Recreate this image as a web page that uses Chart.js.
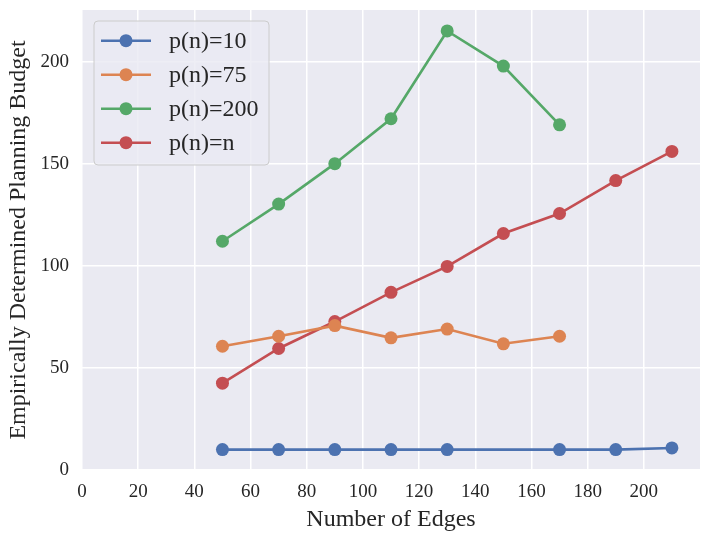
<!DOCTYPE html>
<html>
<head>
<meta charset="utf-8">
<script src="https://cdn.jsdelivr.net/npm/chart.js@4"></script>
<style>
html,body{margin:0;padding:0;background:#fff;}
#wrap{width:710px;height:540px;}
</style>
</head>
<body>
<div id="wrap"><canvas id="c" width="710" height="540"></canvas></div>
<script>
// ---- data ----
const seriesNames = ["p(n)=10", "p(n)=75", "p(n)=200", "p(n)=n"];
const edgesP10 = [50, 70, 90, 110, 130, 170, 190, 210];
const budgetP10 = [10, 10, 10, 10, 10, 10, 10, 10.8];
const edgesP75 = [50, 70, 90, 110, 130, 150, 170];
const budgetP75 = [60.6, 65.5, 70.7, 64.7, 69, 61.8, 65.5];
const edgesP200 = [50, 70, 90, 110, 130, 150, 170];
const budgetP200 = [112, 130.2, 150, 172, 215, 197.8, 169];
const edgesPn = [50, 70, 90, 110, 130, 150, 170, 190, 210];
const budgetPn = [42.5, 59.5, 72.7, 87, 99.7, 115.8, 125.6, 141.7, 156];
const xTickValues = [0, 20, 40, 60, 80, 100, 120, 140, 160, 180, 200];
const yTickValues = [0, 50, 100, 150, 200];
const xAxisTitle = "Number of Edges";
const yAxisTitle = "Empirically Determined Planning Budget";

const colors = ["#4C72B0", "#DD8452", "#55A868", "#C44E52"];
const FONT = "'Liberation Serif', 'DejaVu Serif', serif";
const TXT = "#262626";

function pts(xs, ys) { return xs.map((x, i) => ({ x: x, y: ys[i] })); }
const seriesData = [pts(edgesP10, budgetP10), pts(edgesP75, budgetP75), pts(edgesP200, budgetP200), pts(edgesPn, budgetPn)];

const datasets = seriesData.map((d, i) => ({
  label: seriesNames[i],
  data: d,
  borderColor: colors[i],
  backgroundColor: colors[i],
  pointBackgroundColor: colors[i],
  pointBorderColor: colors[i],
  pointBorderWidth: 0,
  pointRadius: 6.5,
  pointHoverRadius: 6.5,
  borderWidth: 2.6,
  tension: 0,
  fill: false
}));

const bgPlugin = {
  id: 'plotBg',
  beforeDraw(chart) {
    const a = chart.chartArea, ctx = chart.ctx;
    ctx.save();
    ctx.fillStyle = '#EAEAF2';
    ctx.fillRect(a.left, a.top, a.right - a.left, a.bottom - a.top);
    ctx.restore();
  }
};

function roundRect(ctx, x, y, w, h, r) {
  ctx.beginPath();
  ctx.moveTo(x + r, y);
  ctx.lineTo(x + w - r, y);
  ctx.quadraticCurveTo(x + w, y, x + w, y + r);
  ctx.lineTo(x + w, y + h - r);
  ctx.quadraticCurveTo(x + w, y + h, x + w - r, y + h);
  ctx.lineTo(x + r, y + h);
  ctx.quadraticCurveTo(x, y + h, x, y + h - r);
  ctx.lineTo(x, y + r);
  ctx.quadraticCurveTo(x, y, x + r, y);
  ctx.closePath();
}

const legendPlugin = {
  id: 'inLegend',
  afterDatasetsDraw(chart) {
    const ctx = chart.ctx, a = chart.chartArea;
    const x0 = a.left + 12, y0 = a.top + 11, w = 175, h = 144;
    ctx.save();
    roundRect(ctx, x0, y0, w, h, 4);
    ctx.fillStyle = 'rgba(234,234,242,0.8)';
    ctx.fill();
    ctx.strokeStyle = '#CCCCCC';
    ctx.lineWidth = 1;
    ctx.stroke();
    chart.data.datasets.forEach((ds, i) => {
      const cy = y0 + 19.7 + i * 34;
      ctx.strokeStyle = ds.borderColor;
      ctx.lineWidth = 2.6;
      ctx.beginPath();
      ctx.moveTo(x0 + 7, cy);
      ctx.lineTo(x0 + 57, cy);
      ctx.stroke();
      ctx.fillStyle = ds.borderColor;
      ctx.beginPath();
      ctx.arc(x0 + 32, cy, 6.5, 0, Math.PI * 2);
      ctx.fill();
      ctx.fillStyle = TXT;
      ctx.font = "24px " + FONT;
      ctx.textBaseline = 'middle';
      ctx.textAlign = 'left';
      ctx.fillText(ds.label, x0 + 75, cy + 1);
    });
    ctx.restore();
  }
};

new Chart(document.getElementById('c'), {
  type: 'line',
  data: { datasets: datasets },
  plugins: [bgPlugin, legendPlugin],
  options: {
    responsive: false,
    animation: false,
    devicePixelRatio: 1,
    layout: { padding: { left: 0, right: 10, top: 10, bottom: 0 } },
    plugins: { legend: { display: false }, tooltip: { enabled: false } },
    scales: {
      x: {
        type: 'linear',
        min: 0, max: 220,
        afterBuildTicks(scale) { scale.ticks = xTickValues.map(v => ({ value: v })); },
        afterFit(scale) { scale.height = 70; scale.paddingLeft = 0; scale.paddingRight = 0; },
        border: { display: false },
        grid: { color: '#FFFFFF', lineWidth: 1.5, drawTicks: false },
        ticks: { color: TXT, font: { family: FONT, size: 19 }, padding: 11, maxRotation: 0 },
        title: { display: true, text: xAxisTitle, color: TXT, font: { family: FONT, size: 24 }, padding: { top: 0, bottom: 6 } }
      },
      y: {
        type: 'linear',
        min: 0, max: 225.25,
        afterBuildTicks(scale) { scale.ticks = yTickValues.map(v => ({ value: v })); },
        afterFit(scale) { scale.width = 82; scale.paddingTop = 0; scale.paddingBottom = 0; },
        border: { display: false },
        grid: { color: '#FFFFFF', lineWidth: 1.5, drawTicks: false },
        ticks: { color: TXT, font: { family: FONT, size: 19 }, padding: 13 },
        title: { display: true, text: yAxisTitle, color: TXT, font: { family: FONT, size: 24 }, padding: { top: 4, bottom: 4 } }
      }
    }
  }
});
</script>
</body>
</html>
